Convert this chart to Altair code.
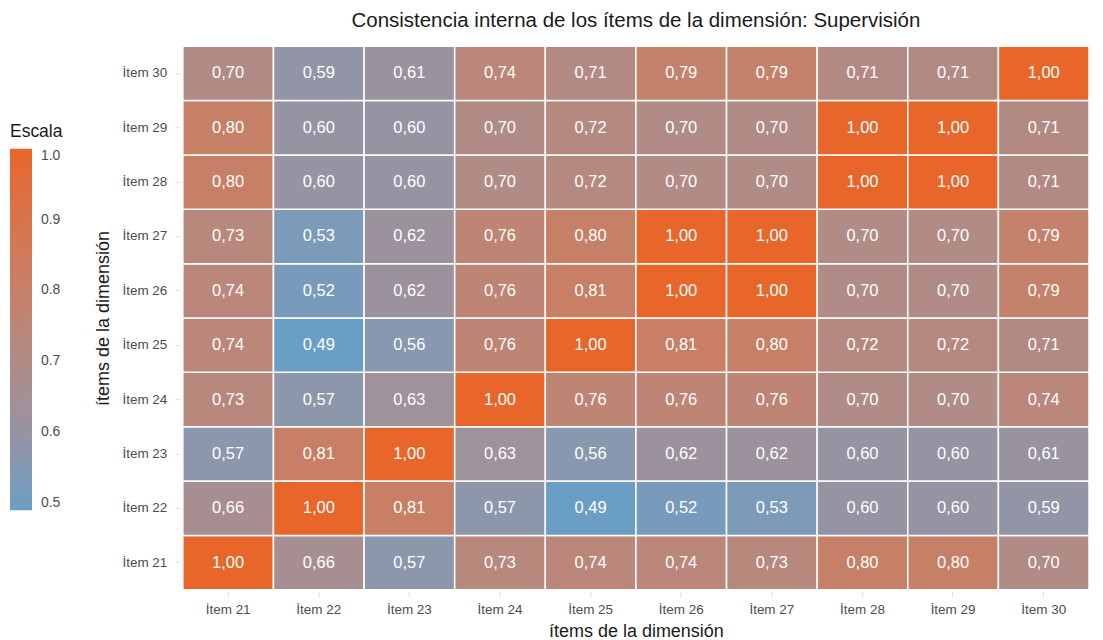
import altair as alt
import pandas as pd

items = ["İtem 21", "İtem 22", "İtem 23", "İtem 24", "İtem 25",
         "İtem 26", "İtem 27", "İtem 28", "İtem 29", "İtem 30"]

# rows: y item (21..30), columns: x item (21..30)
row_21 = [1.00, 0.66, 0.57, 0.73, 0.74, 0.74, 0.73, 0.80, 0.80, 0.70]
row_22 = [0.66, 1.00, 0.81, 0.57, 0.49, 0.52, 0.53, 0.60, 0.60, 0.59]
row_23 = [0.57, 0.81, 1.00, 0.63, 0.56, 0.62, 0.62, 0.60, 0.60, 0.61]
row_24 = [0.73, 0.57, 0.63, 1.00, 0.76, 0.76, 0.76, 0.70, 0.70, 0.74]
row_25 = [0.74, 0.49, 0.56, 0.76, 1.00, 0.81, 0.80, 0.72, 0.72, 0.71]
row_26 = [0.74, 0.52, 0.62, 0.76, 0.81, 1.00, 1.00, 0.70, 0.70, 0.79]
row_27 = [0.73, 0.53, 0.62, 0.76, 0.80, 1.00, 1.00, 0.70, 0.70, 0.79]
row_28 = [0.80, 0.60, 0.60, 0.70, 0.72, 0.70, 0.70, 1.00, 1.00, 0.71]
row_29 = [0.80, 0.60, 0.60, 0.70, 0.72, 0.70, 0.70, 1.00, 1.00, 0.71]
row_30 = [0.70, 0.59, 0.61, 0.74, 0.71, 0.79, 0.79, 0.71, 0.71, 1.00]
rows = [row_21, row_22, row_23, row_24, row_25, row_26, row_27, row_28, row_29, row_30]

records = []
for yi, row in zip(items, rows):
    for xi, v in zip(items, row):
        records.append({"x": xi, "y": yi, "v": v, "label": f"{v:.2f}".replace(".", ",")})
df = pd.DataFrame(records)

FONT = "Liberation Sans"

x_enc = alt.X("x:N", sort=items, title="ítems de la dimensión",
              axis=alt.Axis(labelAngle=0, labelColor="#4d4d4d", labelFontSize=13.5,
                            tickColor="#dddddd", tickSize=5, domain=False,
                            titleFontSize=18, titleFontWeight="normal", titleColor="#1a1a1a",
                            labelPadding=6, titlePadding=6, offset=2))
y_enc = alt.Y("y:N", sort=list(reversed(items)), title="ítems de la dimensión",
              axis=alt.Axis(labelColor="#4d4d4d", labelFontSize=13.5,
                            tickColor="#dddddd", tickSize=5, domain=False,
                            titleFontSize=18, titleFontWeight="normal", titleColor="#1a1a1a",
                            labelPadding=8, titlePadding=9, offset=3))

rect = alt.Chart(df).mark_rect(stroke="white", strokeWidth=1.5).encode(
    x=x_enc, y=y_enc,
    color=alt.Color("v:Q", title="Escala",
                    scale=alt.Scale(domain=[0.49, 1.0], range=["#6a9ec4", "#e8662a"],
                                    interpolate="lab"),
                    legend=alt.Legend(orient="none", legendX=-173, legendY=77,
                                      direction="vertical", gradientLength=362,
                                      gradientThickness=22, values=[0.5, 0.6, 0.7, 0.8, 0.9, 1.0],
                                      format=".1f", labelFontSize=14, labelColor="#4d4d4d",
                                      titleFontSize=17.5, titleFontWeight="normal",
                                      titleColor="#1a1a1a", titlePadding=8,
                                      tickCount=6, labelOffset=9, gradientStrokeWidth=0))
)

text = alt.Chart(df).mark_text(color="white", fontSize=16.5, font=FONT).encode(
    x=alt.X("x:N", sort=items), y=alt.Y("y:N", sort=list(reversed(items))),
    text="label:N"
)

chart = (rect + text).properties(
    width=907, height=544,
    title=alt.TitleParams("Consistencia interna de los ítems de la dimensión: Supervisión",
                          fontSize=20.5, fontWeight="normal", color="#1a1a1a", anchor="middle",
                          offset=14),
    padding={"left": 2, "top": 2, "right": 5, "bottom": 2},
).configure(font=FONT).configure_view(stroke=None).configure_axis(grid=False)

chart.save("out.html", embed_options={"renderer": "svg", "actions": False})
